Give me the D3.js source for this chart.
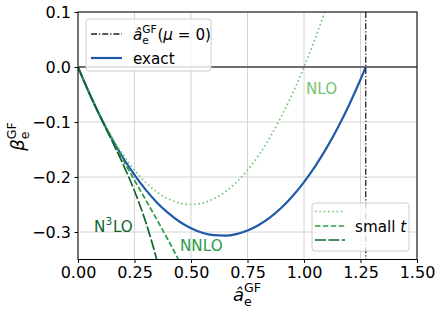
<!DOCTYPE html>
<html><head><meta charset="utf-8">
<script src="https://cdn.jsdelivr.net/npm/d3@7"></script>
<style>
html,body{margin:0;padding:0;background:#fff;}
svg{display:block;font-family:"DejaVu Sans",sans-serif;}
</style></head>
<body><svg id="chart" width="442" height="313"></svg>
<script>
// ---- data ----
const xTicks = [0, 0.25, 0.5, 0.75, 1.0, 1.25, 1.5];
const yTicks = [0.1, 0.0, -0.1, -0.2, -0.3];
const xTickLabels = ["0.00","0.25","0.50","0.75","1.00","1.25","1.50"];
const yTickLabels = ["0.1","0.0","\u22120.1","\u22120.2","\u22120.3"];
const aMu0 = 1.2732;

const exactA = [0,0.05,0.1,0.15,0.2,0.25,0.3,0.35,0.4,0.45,0.5,0.55,0.6,0.65,0.7,0.75,0.8,0.85,0.9,0.95,1.0,1.05,1.1,1.15,1.2,1.25,1.2732];
const exactB = [0,-0.0478,-0.0912,-0.1303,-0.1654,-0.1963,-0.2235,-0.2467,-0.2658,-0.2814,-0.2932,-0.3014,-0.3058,-0.3067,-0.3039,-0.2974,-0.2873,-0.2735,-0.2559,-0.2346,-0.2094,-0.1803,-0.1471,-0.1099,-0.0685,-0.0228,0];

const nloA = [0,0.05,0.1,0.15,0.2,0.25,0.3,0.35,0.4,0.45,0.5,0.55,0.6,0.65,0.7,0.75,0.8,0.85,0.9,0.95,1.0,1.05,1.1];
const nloB = [0,-0.0475,-0.09,-0.1275,-0.16,-0.1875,-0.21,-0.2275,-0.24,-0.2475,-0.25,-0.2475,-0.24,-0.2275,-0.21,-0.1875,-0.16,-0.1275,-0.09,-0.0475,0,0.0525,0.11];

const nnloA = [0,0.05,0.1,0.15,0.2,0.25,0.3,0.35,0.4,0.45,0.5];
const nnloB = [0,-0.0476,-0.0912,-0.1315,-0.1694,-0.2059,-0.2419,-0.2781,-0.3155,-0.3550,-0.3975];

const n3loA = [0,0.05,0.1,0.15,0.2,0.25,0.3,0.35,0.4];
const n3loB = [0,-0.0476,-0.0917,-0.1340,-0.1774,-0.2254,-0.2824,-0.3531,-0.4435];

// ---- layout ----
const svg = d3.select("#chart");
const L = 78, R = 417, T = 12, B = 259.5;
const x = d3.scaleLinear().domain([0, 1.5]).range([L, R]);
const y = d3.scaleLinear().domain([-0.35, 0.1]).range([B, T]);

const cBlue = "#1f5aa8", cNLO = "#74c476", cNNLO = "#2a9a48", cN3LO = "#12622c";
const fsTick = 16, fsLeg = 15.2, fsLab = 18;

svg.append("defs").append("clipPath").attr("id","clip")
  .append("rect").attr("x",L).attr("y",T).attr("width",R-L).attr("height",B-T);

// grid
const grid = svg.append("g");
xTicks.forEach(v => grid.append("line").attr("x1",x(v)).attr("x2",x(v)).attr("y1",T).attr("y2",B)
  .attr("stroke","#d4d4d4").attr("stroke-width",1));
yTicks.forEach(v => grid.append("line").attr("x1",L).attr("x2",R).attr("y1",y(v)).attr("y2",y(v))
  .attr("stroke","#d4d4d4").attr("stroke-width",1));

const plot = svg.append("g").attr("clip-path","url(#clip)");
plot.append("line").attr("x1",L).attr("x2",R).attr("y1",y(0)).attr("y2",y(0))
  .attr("stroke","#444").attr("stroke-width",1.4);

const line = d3.line().x(d=>x(d[0])).y(d=>y(d[1])).curve(d3.curveMonotoneX);
function series(A, Bv){ return A.map((a,i)=>[a,Bv[i]]); }

plot.append("path").attr("d", line(series(exactA, exactB))).attr("fill","none")
  .attr("stroke",cBlue).attr("stroke-width",2.2);
plot.append("line").attr("x1",x(aMu0)).attr("x2",x(aMu0)).attr("y1",T).attr("y2",B)
  .attr("stroke","#222").attr("stroke-width",1.3).attr("stroke-dasharray","6,2,1.2,2");
plot.append("path").attr("d", line(series(nloA, nloB))).attr("fill","none")
  .attr("stroke",cNLO).attr("stroke-width",1.7).attr("stroke-dasharray","1.6,2.7");
plot.append("path").attr("d", line(series(nnloA, nnloB))).attr("fill","none")
  .attr("stroke",cNNLO).attr("stroke-width",1.7).attr("stroke-dasharray","5.5,2.4");
plot.append("path").attr("d", line(series(n3loA, n3loB))).attr("fill","none")
  .attr("stroke",cN3LO).attr("stroke-width",1.7).attr("stroke-dasharray","11,2.4");

// spines
svg.append("rect").attr("x",L).attr("y",T).attr("width",R-L).attr("height",B-T)
  .attr("fill","none").attr("stroke","#000").attr("stroke-width",1);

// axes
const xAxis = svg.append("g").attr("transform",`translate(0,${B})`)
  .call(d3.axisBottom(x).tickValues(xTicks).tickFormat((d,i)=>xTickLabels[i]).tickSize(3.5).tickPadding(3.5));
const yAxis = svg.append("g").attr("transform",`translate(${L},0)`)
  .call(d3.axisLeft(y).tickValues(yTicks).tickFormat((d,i)=>yTickLabels[i]).tickSize(3.5).tickPadding(3.5));
[xAxis,yAxis].forEach(g=>{
  g.select(".domain").remove();
  g.selectAll("text").attr("font-family","DejaVu Sans").attr("font-size",fsTick).attr("fill","#000");
  g.selectAll("line").attr("stroke","#000");
});

// math-like text helper (sub/superscripts stacked)
function mathText(g, x0, y0, parts, anchor, fill, base){
  const grp = g.append("g");
  let cx = 0;
  function put(p, size, dy){
    const t = grp.append("text").attr("x",cx).attr("y",dy).attr("font-size",size)
      .attr("fill",fill).attr("font-family","DejaVu Sans")
      .attr("font-style",p.italic?"italic":"normal").text(p.t);
    return t.node().getComputedTextLength();
  }
  parts.forEach(p=>{
    if (p.sub || p.sup){
      const start = cx; let w1=0,w2=0;
      if (p.sub){ w1 = put(p.sub, base*0.7, base*0.28); }
      cx = start;
      if (p.sup){ w2 = put(p.sup, base*0.7, -base*0.45); }
      cx = start + Math.max(w1,w2) + base*0.05;
    } else {
      cx += put(p, base, 0) + (p.pad||0);
    }
  });
  const off = anchor==="middle" ? -cx/2 : 0;
  grp.attr("transform",`translate(${x0+off},${y0})`);
  return grp;
}

// axis labels
mathText(svg, 247.5, 300.5, [{t:"\u00e2",italic:true},{sub:{t:"e"},sup:{t:"GF"}}], "middle", "#000", fsLab);
const yl = svg.append("g").attr("transform","translate(24,136) rotate(-90)");
mathText(yl, 0, 0, [{t:"\u03b2",italic:true},{sub:{t:"e"},sup:{t:"GF"}}], "middle", "#000", fsLab);

// annotations
svg.append("text").attr("x",306).attr("y",93.5).attr("font-size",fsLeg).attr("fill",cNLO).text("NLO");
svg.append("text").attr("x",180).attr("y",250.5).attr("font-size",fsLeg).attr("fill",cNNLO).text("NNLO");
mathText(svg, 94, 231.5, [{t:"N"},{sup:{t:"3"}},{t:"LO"}], "start", cN3LO, fsLeg);

// legend 1
const lg1 = svg.append("g");
lg1.append("rect").attr("x",86).attr("y",19).attr("width",125).attr("height",52).attr("rx",3)
  .attr("fill","#fff").attr("fill-opacity",0.8).attr("stroke","#cccccc").attr("stroke-width",1);
lg1.append("line").attr("x1",91).attr("x2",122).attr("y1",34).attr("y2",34)
  .attr("stroke","#222").attr("stroke-width",1.3).attr("stroke-dasharray","6,2,1.2,2");
mathText(lg1, 133, 40, [{t:"\u00e2",italic:true},{sub:{t:"e"},sup:{t:"GF"}},{t:"("},{t:"\u03bc",italic:true},{t:"\u00a0=\u00a00)"}], "start", "#000", fsLeg);
lg1.append("line").attr("x1",91).attr("x2",122).attr("y1",58).attr("y2",58)
  .attr("stroke",cBlue).attr("stroke-width",2.2);
lg1.append("text").attr("x",133).attr("y",64).attr("font-size",fsLeg).text("exact");

// legend 2
const lg2 = svg.append("g");
lg2.append("rect").attr("x",312).attr("y",203).attr("width",97).attr("height",48).attr("rx",3)
  .attr("fill","#fff").attr("fill-opacity",0.8).attr("stroke","#cccccc").attr("stroke-width",1);
lg2.append("line").attr("x1",315).attr("x2",345).attr("y1",211.5).attr("y2",211.5)
  .attr("stroke",cNLO).attr("stroke-width",1.7).attr("stroke-dasharray","1.6,2.7");
lg2.append("line").attr("x1",315).attr("x2",345).attr("y1",226).attr("y2",226)
  .attr("stroke",cNNLO).attr("stroke-width",1.7).attr("stroke-dasharray","5.5,2.4");
lg2.append("line").attr("x1",315).attr("x2",345).attr("y1",240).attr("y2",240)
  .attr("stroke",cN3LO).attr("stroke-width",1.7).attr("stroke-dasharray","11,2.4");
const st = lg2.append("text").attr("x",355).attr("y",231.5).attr("font-size",fsLeg);
st.append("tspan").text("small\u00a0");
st.append("tspan").attr("font-style","italic").text("t");
</script></body></html>
